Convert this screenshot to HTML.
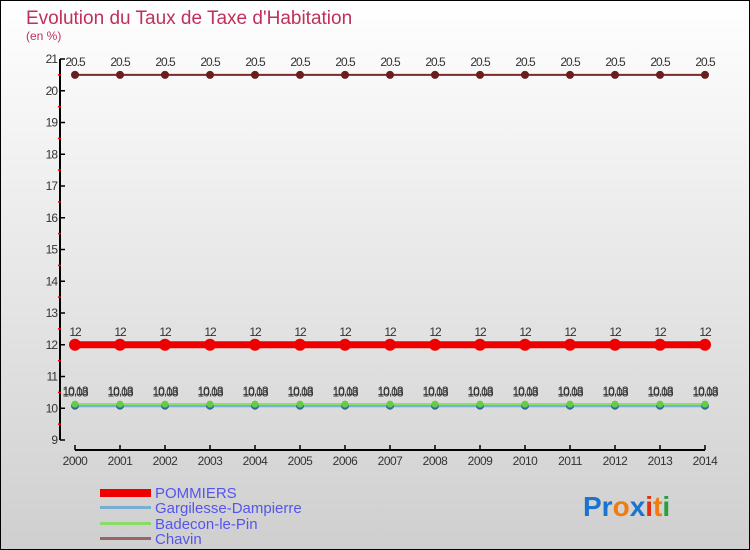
<!DOCTYPE html>
<html><head><meta charset="utf-8"><style>
body{margin:0}
#c{width:750px;height:550px;position:relative;overflow:hidden;font-family:"Liberation Sans",sans-serif}
</style></head><body>
<div id="c">
<svg id="s" width="750" height="550" xmlns="http://www.w3.org/2000/svg">
<defs><linearGradient id="bg" x1="0" y1="0" x2="0" y2="1"><stop offset="0" stop-color="#ffffff"/><stop offset="1" stop-color="#cfcfcf"/></linearGradient></defs>
<rect x="0.5" y="0.5" width="749" height="549" fill="url(#bg)" stroke="#000"/>
<text x="26" y="24" font-size="19" fill="#c0305a">Evolution du Taux de Taxe d'Habitation</text>
<text x="26" y="40" font-size="12" fill="#c0305a">(en %)</text>
<g id="plot"></g>
<g>
<rect x="100" y="489" width="51" height="8" fill="#ee0000"/>
<text x="155" y="498" font-size="15" fill="#5555ee">POMMIERS</text>
<rect x="100" y="506" width="51" height="3" fill="#7aaed0"/>
<text x="155" y="513" font-size="15" fill="#5555ee">Gargilesse-Dampierre</text>
<rect x="100" y="522" width="51" height="3" fill="#88dd66"/>
<text x="155" y="529" font-size="15" fill="#5555ee">Badecon-le-Pin</text>
<rect x="100" y="537" width="51" height="3" fill="#996666"/>
<text x="155" y="544" font-size="15" fill="#5555ee">Chavin</text>
</g>
<text x="583" y="516" font-size="28" font-weight="bold"><tspan fill="#1a74d0">Pr</tspan><tspan fill="#f07c10">o</tspan><tspan fill="#1a74d0">x</tspan><tspan fill="#e03010">i</tspan><tspan fill="#f07c10">t</tspan><tspan fill="#28a040">i</tspan></text>
</svg>
</div>
<script>
const years=[2000,2001,2002,2003,2004,2005,2006,2007,2008,2009,2010,2011,2012,2013,2014];
const pommiers=[12,12,12,12,12,12,12,12,12,12,12,12,12,12,12];
const gargilesse=[10.08,10.08,10.08,10.08,10.08,10.08,10.08,10.08,10.08,10.08,10.08,10.08,10.08,10.08,10.08];
const badecon=[10.13,10.13,10.13,10.13,10.13,10.13,10.13,10.13,10.13,10.13,10.13,10.13,10.13,10.13,10.13];
const chavin=[20.5,20.5,20.5,20.5,20.5,20.5,20.5,20.5,20.5,20.5,20.5,20.5,20.5,20.5,20.5];
const yTicks=[9,10,11,12,13,14,15,16,17,18,19,20,21];
const NS="http://www.w3.org/2000/svg";
const g=document.getElementById('plot');
const X=i=>75+i*45;
const Y=v=>440-(v-9)*31.75;
function mk(t,a){const e=document.createElementNS(NS,t);for(const k in a)e.setAttribute(k,a[k]);g.appendChild(e);return e;}
let ax=mk('line',{x1:60,y1:Y(21),x2:60,y2:440,stroke:'#000','stroke-width':2});


let xa=mk('line',{x1:75,y1:450,x2:705,y2:450,stroke:'#000','stroke-width':2});


yTicks.forEach(v=>{
  let t=mk('line',{x1:60,y1:Y(v),x2:65,y2:Y(v),stroke:'#000','stroke-width':1.5});
  
  
  let l=mk('text',{x:57,y:Y(v)+4,'font-size':12,fill:'#333','text-anchor':'end','letter-spacing':'-1'});
  l.textContent=v;
  
  
  if(v<21){let m=mk('line',{x1:58,y1:Y(v+0.5),x2:61,y2:Y(v+0.5),stroke:'#e00','stroke-width':1.5});
  
  }
});
years.forEach((yr,i)=>{
  let t=mk('line',{x1:X(i),y1:445,x2:X(i),y2:450,stroke:'#000','stroke-width':1.5});
  
  
  let l=mk('text',{x:X(i),y:465,'font-size':12,fill:'#333','text-anchor':'middle','letter-spacing':'-0.5'});
  l.textContent=yr;
  
  
});
function series(vals,name,color,w,r,dot,labFn){
  const pts=vals.map((v,i)=>X(i)+','+Y(v)).join(' ');
  let p=mk('polyline',{points:pts,fill:'none',stroke:color,'stroke-width':w});
  
  
  vals.forEach((v,i)=>{
    let c=mk('circle',{cx:X(i),cy:Y(v),r:r,fill:dot});
    
    
    if(labFn){let l=mk('text',{x:X(i),y:Y(v)-9,'font-size':12,fill:'#333','text-anchor':'middle','letter-spacing':'-1'});
    l.textContent=labFn(v);
    
    }
  });
}
series(chavin,'chavin','#7a2a2a',2,4,'#6a1f1f',v=>v);
series(pommiers,'pommiers','#ee0000',7,6,'#ee0000',v=>v);
series(gargilesse,'gargilesse','#7aaed0',3,4,'#2a6aa0',v=>v.toFixed(2));
series(badecon,'badecon','#88dd66',2,3.5,'#66cc44',v=>v.toFixed(2));
</script>
</body></html>
